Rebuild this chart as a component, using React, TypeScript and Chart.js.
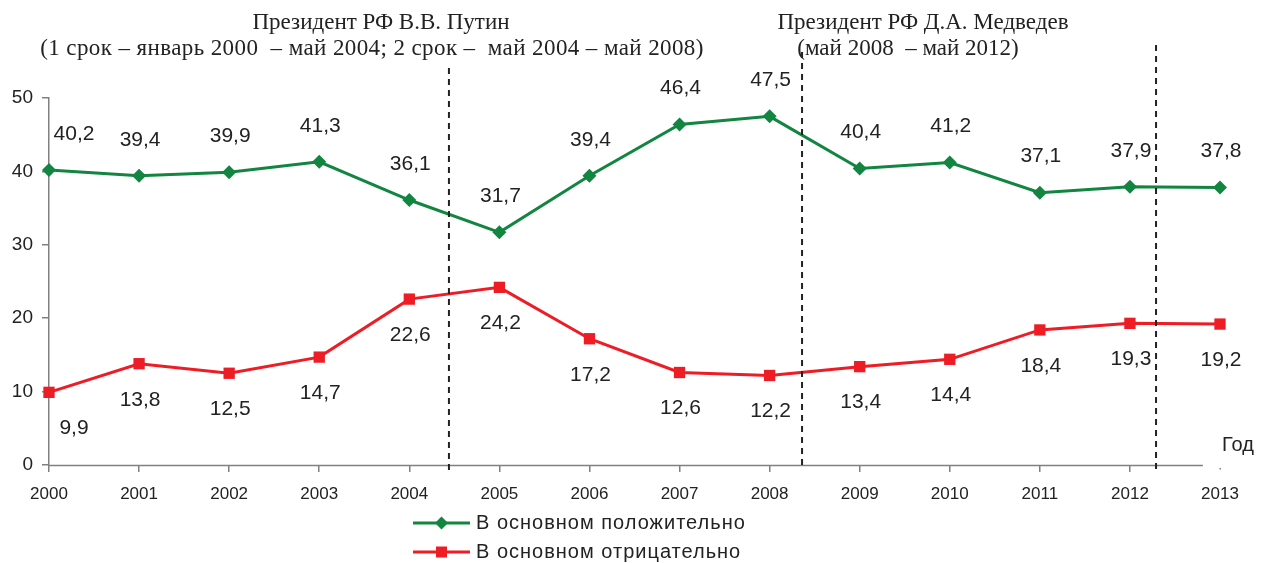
import React, { useEffect, useRef } from "react";
import { Chart, registerables } from "chart.js";

Chart.register(...registerables);

const years = ["2000", "2001", "2002", "2003", "2004", "2005", "2006", "2007", "2008", "2009", "2010", "2011", "2012", "2013"];
const positive = [40.2, 39.4, 39.9, 41.3, 36.1, 31.7, 39.4, 46.4, 47.5, 40.4, 41.2, 37.1, 37.9, 37.8];
const negative = [9.9, 13.8, 12.5, 14.7, 22.6, 24.2, 17.2, 12.6, 12.2, 13.4, 14.4, 18.4, 19.3, 19.2];
const seriesNames = ["В основном положительно", "В основном отрицательно"];
const yTicks = [0, 10, 20, 30, 40, 50];
// presidential term boundaries (in category-index units)
const termBoundaries = [4.44, 8.36, 12.29];
const headers = [
  { text: "Президент РФ В.В. Путин", x: 381, y: 23 },
  { text: "(1 срок – январь 2000  – май 2004; 2 срок –  май 2004 – май 2008)", x: 372, y: 49 },
  { text: "Президент РФ Д.А. Медведев", x: 923, y: 23 },
  { text: "(май 2008  – май 2012)", x: 908, y: 49 },
];

const GREEN = "#128540";
const RED = "#ee1c25";
const TEXT = "#222222";
const AXIS = "#808080";

const overlayPlugin = {
  id: "overlay",
  afterDraw(chart: any) {
    const ctx = chart.ctx;
    const xs = chart.scales.x;
    const area = chart.chartArea;
    ctx.save();

    // x axis line (ends short of the last category, as in the original)
    ctx.strokeStyle = AXIS;
    ctx.lineWidth = 1.5;
    ctx.beginPath();
    ctx.moveTo(area.left, area.bottom + 0.5);
    ctx.lineTo(xs.getPixelForValue(12.81), area.bottom + 0.5);
    ctx.stroke();
    ctx.fillStyle = AXIS;
    ctx.fillRect(area.right - 0.5, area.bottom + 3, 1.5, 1.5);

    // dashed term lines
    const tops = [68, 52, 45];
    ctx.strokeStyle = "#222";
    ctx.lineWidth = 2;
    ctx.setLineDash([6, 5]);
    termBoundaries.forEach((v, i) => {
      const px = xs.getPixelForValue(v);
      ctx.beginPath();
      ctx.moveTo(px, tops[i]);
      ctx.lineTo(px, area.bottom + 5);
      ctx.stroke();
    });
    ctx.setLineDash([]);

    // headers
    ctx.fillStyle = TEXT;
    ctx.font = '23px "Liberation Serif", "DejaVu Serif", serif';
    ctx.textAlign = "center";
    ctx.textBaseline = "middle";
    headers.forEach((h, i) => {
      (ctx as any).letterSpacing = i === 1 ? "0.4px" : "0px";
      ctx.fillText(h.text, h.x, h.y);
    });
    (ctx as any).letterSpacing = "0px";

    // data labels
    ctx.font = '21px "Liberation Sans", Arial, sans-serif';
    chart.data.datasets.forEach((ds: any, di: number) => {
      const meta = chart.getDatasetMeta(di);
      meta.data.forEach((pt: any, i: number) => {
        const val = ds.data[i];
        const label = String(val).replace(".", ",");
        const dx = i === 0 ? 25 : 1;
        const dy = di === 0 ? -36 : 36;
        ctx.fillText(label, pt.x + dx, pt.y + dy);
      });
    });

    // "Год"
    ctx.font = '20px "Liberation Sans", Arial, sans-serif';
    ctx.textAlign = "left";
    ctx.fillText("Год", 1222, 445);

    // legend
    const legendItems = [
      { name: seriesNames[0], color: GREEN, style: "rectRot", y: 523 },
      { name: seriesNames[1], color: RED, style: "rect", y: 552 },
    ];
    legendItems.forEach((it) => {
      ctx.strokeStyle = it.color;
      ctx.fillStyle = it.color;
      ctx.lineWidth = 3;
      ctx.beginPath();
      ctx.moveTo(413, it.y);
      ctx.lineTo(470, it.y);
      ctx.stroke();
      const cx = 441.5;
      ctx.beginPath();
      if (it.style === "rectRot") {
        ctx.moveTo(cx - 6.5, it.y);
        ctx.lineTo(cx, it.y - 6.5);
        ctx.lineTo(cx + 6.5, it.y);
        ctx.lineTo(cx, it.y + 6.5);
        ctx.closePath();
      } else {
        ctx.rect(cx - 5.5, it.y - 5.5, 11, 11);
      }
      ctx.fill();
      ctx.fillStyle = TEXT;
      ctx.font = '20px "Liberation Sans", Arial, sans-serif';
      (ctx as any).letterSpacing = "1px";
      ctx.textBaseline = "middle";
      ctx.fillText(it.name, 476, it.y);
      (ctx as any).letterSpacing = "0px";
    });

    ctx.restore();
  },
};

export default function App() {
  const ref = useRef<HTMLCanvasElement | null>(null);
  useEffect(() => {
    if (!ref.current) return;
    const chart = new Chart(ref.current, {
      type: "line",
      data: {
        labels: years,
        datasets: [
          {
            label: seriesNames[0],
            data: positive,
            borderColor: GREEN,
            backgroundColor: GREEN,
            borderWidth: 3,
            pointStyle: "rectRot",
            pointRadius: 7,
            pointBorderWidth: 0,
            tension: 0,
          },
          {
            label: seriesNames[1],
            data: negative,
            borderColor: RED,
            backgroundColor: RED,
            borderWidth: 3,
            pointStyle: "rect",
            pointRadius: 8,
            pointBorderWidth: 0,
            tension: 0,
          },
        ],
      },
      options: {
        responsive: false,
        animation: false,
        layout: { padding: { left: 0, top: 98, right: 52, bottom: 0 } },
        plugins: { legend: { display: false }, tooltip: { enabled: false }, title: { display: false } },
        scales: {
          x: {
            type: "category",
            offset: false,
            afterFit: (s: any) => { s.height = 98; },
            grid: {
              display: true,
              drawOnChartArea: false,
              drawTicks: true,
              tickLength: 7,
              color: (c: any) => (c.index === years.length - 1 ? "rgba(0,0,0,0)" : AXIS),
              lineWidth: 1.5,
            },
            border: { display: false },
            ticks: {
              color: TEXT,
              padding: 12,
              maxRotation: 0,
              autoSkip: false,
              font: { family: '"Liberation Sans", Arial, sans-serif', size: 17 },
            },
          },
          y: {
            min: 0,
            max: 50,
            afterFit: (s: any) => { s.width = 49; },
            afterBuildTicks: (s: any) => { s.ticks = yTicks.map((v) => ({ value: v })); },
            grid: { display: true, drawOnChartArea: false, drawTicks: true, tickLength: 7, color: AXIS, lineWidth: 1.5 },
            border: { display: true, color: AXIS, width: 1.5 },
            ticks: {
              color: TEXT,
              padding: 9,
              font: { family: '"Liberation Sans", Arial, sans-serif', size: 19 },
            },
          },
        },
      },
      plugins: [overlayPlugin],
    });
    return () => chart.destroy();
  }, []);
  return (
    <div style={{ position: "absolute", left: 0, top: 0, width: 1272, height: 563, background: "#fff" }}>
      <canvas ref={ref} width={1272} height={563} style={{ display: "block" }} />
    </div>
  );
}
